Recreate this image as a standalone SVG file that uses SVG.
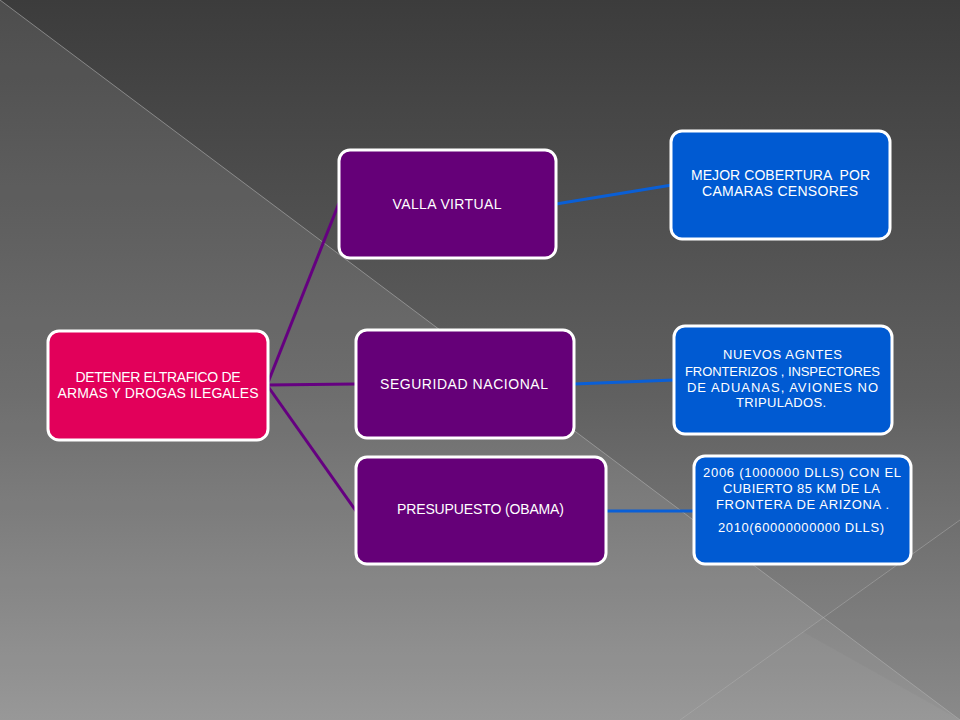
<svg xmlns="http://www.w3.org/2000/svg" width="960" height="720" viewBox="0 0 960 720">
<defs>
<linearGradient id="bg" x1="0" y1="0" x2="0" y2="1">
<stop offset="0" stop-color="#3c3c3c"/>
<stop offset="0.55" stop-color="#606060"/>
<stop offset="1" stop-color="#8e8e8e"/>
</linearGradient>
<style>
.box{stroke:#ffffff;stroke-width:3}
.root{fill:#e2005a}
.mid{fill:#650078}
.leaf{fill:#005ad2}
.t{font-family:"Liberation Sans",Arial,sans-serif;font-size:14px;fill:#ffffff;text-anchor:middle}
.s{font-size:13px}
.cp{stroke:#650080;stroke-width:3;fill:none}
.cb{stroke:#0a5fd6;stroke-width:3;fill:none}
</style>
</defs>
<rect x="0" y="0" width="960" height="720" fill="url(#bg)"/>
<polygon points="0,0 960,720 0,720" fill="#ffffff" fill-opacity="0.09"/>
<polygon points="960,520 803,632 960,720" fill="#000000" fill-opacity="0.025"/>
<line x1="0" y1="0" x2="960" y2="720" stroke="#b0b0b0" stroke-opacity="0.6" stroke-width="1"/>
<line x1="960" y1="520" x2="680" y2="720" stroke="#b0b0b0" stroke-opacity="0.5" stroke-width="1"/>
<g id="connectors">
<line class="cp" x1="267" y1="385" x2="339" y2="203"/>
<line class="cp" x1="267" y1="385" x2="356" y2="384"/>
<line class="cp" x1="267" y1="385" x2="356" y2="511"/>
<line class="cb" x1="556" y1="204" x2="672" y2="185"/>
<line class="cb" x1="574" y1="384" x2="674" y2="380"/>
<line class="cb" x1="606" y1="511" x2="694" y2="511"/>
</g>
<g id="root">
<rect class="box root" x="48" y="331" width="220" height="109" rx="11"/>
<text class="t" x="158" y="382" textLength="165" lengthAdjust="spacing">DETENER ELTRAFICO DE</text>
<text class="t" x="158" y="398" textLength="201" lengthAdjust="spacing">ARMAS Y DROGAS ILEGALES</text>
</g>
<g id="valla">
<rect class="box mid" x="339" y="150" width="217" height="108" rx="11"/>
<text class="t" x="447" y="209" textLength="109" lengthAdjust="spacing">VALLA VIRTUAL</text>
</g>
<g id="seguridad">
<rect class="box mid" x="356" y="330" width="218" height="108" rx="11"/>
<text class="t" x="464" y="389" textLength="168" lengthAdjust="spacing">SEGURIDAD NACIONAL</text>
</g>
<g id="presupuesto">
<rect class="box mid" x="356" y="457" width="250" height="107" rx="11"/>
<text class="t" x="480.5" y="514" textLength="167" lengthAdjust="spacing">PRESUPUESTO (OBAMA)</text>
</g>
<g id="mejor">
<rect class="box leaf" x="671" y="131" width="219" height="108" rx="11"/>
<text class="t" x="780.5" y="180" textLength="179" lengthAdjust="spacing" xml:space="preserve">MEJOR COBERTURA  POR</text>
<text class="t" x="780" y="196" textLength="156" lengthAdjust="spacing">CAMARAS CENSORES</text>
</g>
<g id="nuevos">
<rect class="box leaf" x="674" y="326" width="218" height="108" rx="11"/>
<text class="t s" x="782.5" y="359" textLength="119" lengthAdjust="spacing">NUEVOS AGNTES</text>
<text class="t s" x="782.5" y="376" textLength="195" lengthAdjust="spacing">FRONTERIZOS , INSPECTORES</text>
<text class="t s" x="782.5" y="392" textLength="191" lengthAdjust="spacing">DE ADUANAS, AVIONES NO</text>
<text class="t s" x="781" y="407" textLength="90" lengthAdjust="spacing">TRIPULADOS.</text>
</g>
<g id="obama2006">
<rect class="box leaf" x="694" y="456" width="217" height="108" rx="11"/>
<text class="t s" x="802" y="477" textLength="198" lengthAdjust="spacing">2006 (1000000 DLLS) CON EL</text>
<text class="t s" x="801.5" y="493" textLength="157" lengthAdjust="spacing">CUBIERTO 85 KM DE LA</text>
<text class="t s" x="802.5" y="509" textLength="173" lengthAdjust="spacing">FRONTERA DE ARIZONA .</text>
<text class="t s" x="801" y="532" textLength="166" lengthAdjust="spacing">2010(60000000000 DLLS)</text>
</g>
</svg>
